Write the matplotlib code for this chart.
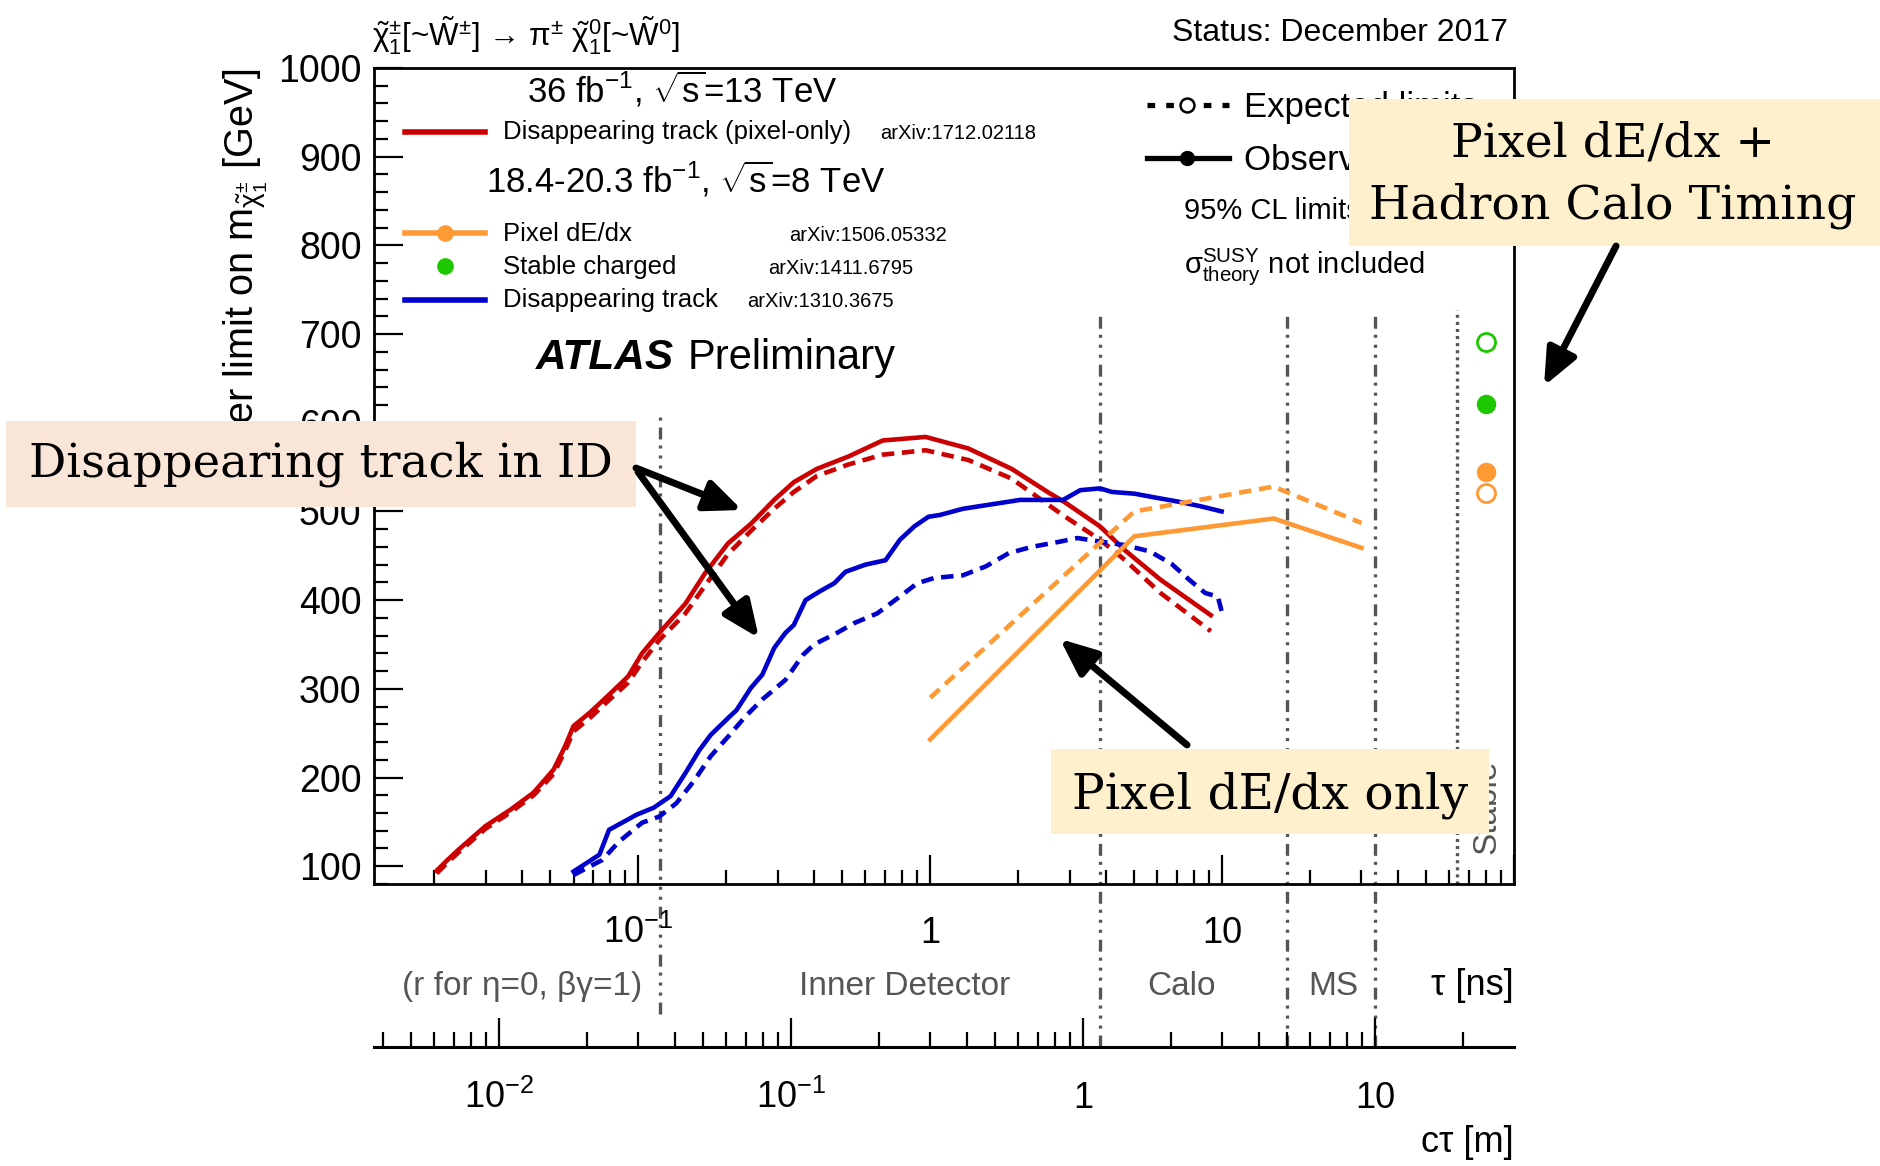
import matplotlib
matplotlib.use("Agg")
import matplotlib.pyplot as plt
import matplotlib.transforms as mtransforms
from matplotlib.patches import Rectangle, FancyArrowPatch
from matplotlib.ticker import LogLocator, NullFormatter, MultipleLocator, FixedLocator

plt.rcParams["font.family"] = ["Liberation Sans", "DejaVu Sans"]
plt.rcParams["mathtext.fontset"] = "custom"
plt.rcParams["mathtext.rm"] = "Liberation Sans"
plt.rcParams["mathtext.it"] = "Liberation Sans"
plt.rcParams["mathtext.bf"] = "Liberation Sans:bold"
plt.rcParams["mathtext.sf"] = "Liberation Sans"
plt.rcParams["lines.scale_dashes"] = False

# ---------------- data ----------------
C_LIGHT = 0.299792458  # m per ns

# 13 TeV disappearing track (pixel-only), tau in ns, mass in GeV
red_tau = [0.0204, 0.0222, 0.0243, 0.0299, 0.0366, 0.0438, 0.0513, 0.0561, 0.0600,
           0.0687, 0.0804, 0.0923, 0.103, 0.118, 0.145, 0.169, 0.203, 0.243, 0.292,
           0.341, 0.409, 0.525, 0.687, 0.964, 1.35, 1.90, 2.55, 2.87, 3.82, 4.65,
           6.15, 9.14]
red_obs = [95, 107, 119, 145, 164, 183, 209, 235, 258, 274, 295, 314, 340, 363, 396,
           430, 464, 486, 513, 533, 548, 562, 580, 584, 571, 548, 521, 511, 483, 456,
           423, 383]
red_exp = [92, 104, 116, 142, 161, 180, 204, 230, 252, 268, 289, 307, 330, 355, 385,
           416, 452, 478, 503, 522, 540, 553, 564, 569, 558, 537, 507, 495, 468, 445,
           408, 365]

# 8 TeV disappearing track
blue_obs_tau = [0.060, 0.0736, 0.0794, 0.0986, 0.113, 0.129, 0.145, 0.162, 0.177,
                0.203, 0.217, 0.243, 0.266, 0.292, 0.319, 0.341, 0.374, 0.419, 0.469,
                0.513, 0.600, 0.703, 0.787, 0.881, 0.986, 1.079, 1.294, 1.622, 2.032,
                2.851, 3.266, 3.819, 4.188, 5.012, 5.821, 7.079, 8.395, 9.954]
blue_obs = [94, 113, 141, 158, 166, 179, 205, 231, 248, 267, 276, 301, 316, 346, 363,
            372, 400, 410, 419, 432, 440, 445, 468, 483, 494, 496, 503, 508, 513, 513,
            524, 526, 522, 520, 516, 511, 506, 500]
blue_exp_tau = [0.060, 0.0752, 0.0861, 0.103, 0.118, 0.135, 0.155, 0.177, 0.203,
                0.233, 0.266, 0.319, 0.366, 0.400, 0.479, 0.548, 0.658, 0.787, 0.902,
                1.033, 1.294, 1.549, 1.858, 2.223, 2.786, 3.192, 3.819, 4.645, 5.649,
                6.699, 7.709, 8.750, 9.661, 10.0]
blue_exp = [90, 107, 128, 149, 156, 171, 196, 224, 246, 269, 288, 310, 338, 350, 363,
            374, 385, 404, 419, 425, 428, 438, 453, 460, 466, 470, 466, 462, 455, 441,
            423, 408, 404, 385]

# 8 TeV pixel dE/dx
orange_tau = [1, 5, 15, 30]
orange_obs = [243, 472, 492, 459]
orange_exp = [290, 500, 528, 487]

# stable chargino limits
stable_tau = [80]
green_stable_obs = [621]
green_stable_exp = [691]
orange_stable_obs = [544]
orange_stable_exp = [521]

# detector region boundaries (tau, ns) and labels
region_tau = [0.119, 3.82, 16.7, 33.5]
stable_boundary_tau = [63.5]
region_names = ["(r for η=0, βγ=1)", "Inner Detector", "Calo", "MS"]
region_label_tau = [0.0399, 0.82, 7.24, 24.1]

tau_ticks = [0.1, 1, 10]
tau_ticklabels = [r"$\mathdefault{10^{-1}}$", "1", "10"]
ctau_ticks = [0.01, 0.1, 1, 10]
ctau_ticklabels = [r"$\mathdefault{10^{-2}}$", r"$\mathdefault{10^{-1}}$", "1", "10"]
mass_ticks = list(range(100, 1001, 100))
tau_lim = (0.01245, 100.0)
mass_lim = (80, 1000)

RED = "#CC0000"
BLUE = "#0000CC"
ORANGE = "#FF9933"
GREEN = "#1EC800"
GRAY = "#555555"

# ---------------- figure ----------------
fig = plt.figure(figsize=(18.8, 11.66), dpi=100)
L, B, W, H = 0.199, 0.2419, 0.6064, 0.6998
ax = fig.add_axes([L, B, W, H])
ax.set_xscale("log")
ax.set_xlim(*tau_lim)
ax.set_ylim(*mass_lim)
for s in ax.spines.values():
    s.set_linewidth(2.0)

ax.yaxis.set_major_locator(FixedLocator(mass_ticks))
ax.yaxis.set_minor_locator(MultipleLocator(20))
ax.xaxis.set_major_locator(LogLocator(base=10))
ax.xaxis.set_minor_locator(LogLocator(base=10, subs=range(2, 10)))
ax.xaxis.set_major_formatter(NullFormatter())
ax.xaxis.set_minor_formatter(NullFormatter())
ax.tick_params(axis="both", which="both", direction="in", top=False, right=False)
ax.tick_params(axis="both", which="major", length=21, width=1.6)
ax.tick_params(axis="both", which="minor", length=10, width=1.6)
ax.tick_params(axis="y", labelsize=27, pad=9)

lw = 3.3
dash = (0, (9, 5.5))
ax.plot(red_tau, red_obs, color=RED, lw=lw, zorder=4)
ax.plot(red_tau, red_exp, color=RED, lw=lw, ls=dash, zorder=4)
ax.plot(blue_obs_tau, blue_obs, color=BLUE, lw=lw, zorder=4)
ax.plot(blue_exp_tau, blue_exp, color=BLUE, lw=lw, ls=dash, zorder=4)
ax.plot(orange_tau, orange_obs, color=ORANGE, lw=lw, zorder=4)
ax.plot(orange_tau, orange_exp, color=ORANGE, lw=lw, ls=dash, zorder=4)

ax.plot(stable_tau, green_stable_exp, "o", ms=13, mfc="none", mec=GREEN, mew=2, zorder=5)
ax.plot(stable_tau, green_stable_obs, "o", ms=13, mfc=GREEN, mec=GREEN, zorder=5)
ax.plot(stable_tau, orange_stable_obs, "o", ms=13, mfc=ORANGE, mec=ORANGE, zorder=5)
ax.plot(stable_tau, orange_stable_exp, "o", ms=13, mfc="none", mec=ORANGE, mew=2, zorder=5)

# region boundaries
trans = mtransforms.blended_transform_factory(ax.transData, ax.transAxes)
vdash = (0, (8.6, 5, 2.2, 5, 2.2, 5, 2.2, 4.3))
for i, t in enumerate(region_tau):
    top, bot = (0.576, -0.159) if i == 0 else (0.704, -0.2)
    ax.plot([t, t], [bot, top], transform=trans, color=GRAY, lw=2.4, ls=vdash,
            clip_on=False, zorder=2)
ax.plot([stable_boundary_tau[0]] * 2, [0, 0.704], transform=trans, color=GRAY,
        lw=2.4, ls=(0, (2.2, 2.9)), zorder=2)
ax.text(0.976, 0.037, "Stable", transform=ax.transAxes, rotation=90, ha="center",
        va="bottom", color=GRAY, fontsize=24)

for t, name in zip(region_label_tau, region_names):
    ax.text(t, -0.1365, name, transform=trans, ha="center", va="baseline",
            color=GRAY, fontsize=24)
ax.text(1.0, -0.1365, "τ [ns]", transform=ax.transAxes, ha="right", va="baseline",
        fontsize=26)
for t, lab in zip(tau_ticks, tau_ticklabels):
    ax.text(t, -0.0727, lab, transform=trans, ha="center", va="baseline", fontsize=26)

# lower c*tau axis
ax2 = fig.add_axes([L, 0.10223, W, 1e-5])
ax2.patch.set_visible(False)
ax2.set_xscale("log")
ax2.set_xlim(tau_lim[0] * C_LIGHT, tau_lim[1] * C_LIGHT)
for s in ["top", "left", "right"]:
    ax2.spines[s].set_visible(False)
ax2.spines["bottom"].set_linewidth(2.2)
ax2.set_yticks([])
ax2.xaxis.set_major_locator(LogLocator(base=10))
ax2.xaxis.set_minor_locator(LogLocator(base=10, subs=range(2, 10)))
ax2.xaxis.set_major_formatter(NullFormatter())
ax2.xaxis.set_minor_formatter(NullFormatter())
ax2.tick_params(axis="x", which="both", direction="in")
ax2.tick_params(axis="x", which="major", length=21, width=1.6)
ax2.tick_params(axis="x", which="minor", length=11, width=1.6)
trans2 = mtransforms.blended_transform_factory(ax2.transData, fig.transFigure)
for t, lab in zip(ctau_ticks, ctau_ticklabels):
    ax2.text(t, 0.0497, lab, transform=trans2, ha="center", va="baseline", fontsize=26)
trans2b = mtransforms.blended_transform_factory(ax2.transAxes, fig.transFigure)
ax2.text(1.0, 0.012, "cτ [m]", transform=trans2b, ha="right", va="baseline", fontsize=26)

# titles
fig.text(0.198, 0.9597,
         r"$\tilde{\chi}^{\pm}_{1}$[~$\tilde{W}^{\pm}$] → π$^{\pm}$ $\tilde{\chi}^{0}_{1}$[~$\tilde{W}^{0}$]",
         ha="left", va="baseline", fontsize=22.5)
fig.text(0.802, 0.9648, "Status: December 2017", ha="right", va="baseline", fontsize=23)
fig.text(0.1350, 0.9417, r"Lower limit on m$_{\tilde{\chi}^{\pm}_{1}}$ [GeV]",
         rotation=90, rotation_mode="anchor", ha="right", va="baseline", fontsize=28.5)

# left legend
ta = ax.transAxes
ax.text(0.270, 0.9574, r"36 fb$^{-1}$, $\sqrt{s}$=13 TeV", transform=ta, ha="center",
        va="baseline", fontsize=25)
ax.plot([0.027, 0.097], [0.922, 0.922], transform=ta, color=RED, lw=4)
ax.text(0.113, 0.913, "Disappearing track (pixel-only)", transform=ta, va="baseline", fontsize=18.5)
ax.text(0.444, 0.913, "arXiv:1712.02118", transform=ta, va="baseline", fontsize=14.5)
ax.text(0.273, 0.8469, r"18.4-20.3 fb$^{-1}$, $\sqrt{s}$=8 TeV", transform=ta, ha="center",
        va="baseline", fontsize=25)
ax.plot([0.027, 0.062, 0.097], [0.798] * 3, transform=ta, color=ORANGE, lw=4,
        marker="o", ms=11, markevery=[1])
ax.text(0.113, 0.788, "Pixel dE/dx", transform=ta, va="baseline", fontsize=18.5)
ax.text(0.364, 0.788, "arXiv:1506.05332", transform=ta, va="baseline", fontsize=14.5)
ax.plot([0.062], [0.757], transform=ta, color=GREEN, marker="o", ms=11, ls="none")
ax.text(0.113, 0.748, "Stable charged", transform=ta, va="baseline", fontsize=18.5)
ax.text(0.346, 0.748, "arXiv:1411.6795", transform=ta, va="baseline", fontsize=14.5)
ax.plot([0.027, 0.097], [0.716, 0.716], transform=ta, color=BLUE, lw=4)
ax.text(0.113, 0.707, "Disappearing track", transform=ta, va="baseline", fontsize=18.5)
ax.text(0.327, 0.707, "arXiv:1310.3675", transform=ta, va="baseline", fontsize=14.5)
ax.text(0.142, 0.631, "ATLAS", transform=ta, va="baseline", fontsize=30.5,
        fontweight="bold", fontstyle="italic")
ax.text(0.275, 0.631, "Preliminary", transform=ta, va="baseline", fontsize=30)

# right legend
ax.plot([0.678, 0.713, 0.750], [0.9545] * 3, transform=ta, color="black", lw=3.8,
        ls=(0, (5.5, 8)), marker="o", ms=10, mfc="white", mec="black", mew=1.8,
        markevery=[1])
ax.text(0.763, 0.9396, "Expected limits", transform=ta, va="baseline", fontsize=25)
ax.plot([0.678, 0.713, 0.750], [0.890] * 3, transform=ta, color="black", lw=3.8,
        marker="o", ms=10, markevery=[1])
ax.text(0.763, 0.875, "Observed limits", transform=ta, va="baseline", fontsize=25)
ax.text(0.710, 0.815, "95% CL limits", transform=ta, va="baseline", fontsize=21)
ax.text(0.710, 0.749, r"σ${}^{\mathrm{SUSY}}_{\mathrm{theory}}$ not included",
        transform=ta, va="baseline", fontsize=21)

# ---------------- slide annotations ----------------
SERIF = ["DejaVu Serif"]
boxes = [
    ((0.0032, 0.5652), 0.3351, 0.0738, "#FAE5D9"),
    ((0.5590, 0.2847), 0.2330, 0.0729, "#FEF0CD"),
    ((0.7176, 0.7890), 0.2824, 0.1261, "#FEF0CD"),
]
for (x0, y0), w, h, c in boxes:
    fig.add_artist(Rectangle((x0, y0), w, h, transform=fig.transFigure,
                             facecolor=c, edgecolor="none", zorder=5))
fig.text(0.1707, 0.602, "Disappearing track in ID", ha="center", va="center",
         family=SERIF, fontsize=33.5, zorder=6)
fig.text(0.6755, 0.318, "Pixel dE/dx only", ha="center", va="center",
         family=SERIF, fontsize=35, zorder=6)
fig.text(0.858, 0.8765, "Pixel dE/dx +", ha="center", va="center",
         family=SERIF, fontsize=34, zorder=6)
fig.text(0.858, 0.8233, "Hadron Calo Timing", ha="center", va="center",
         family=SERIF, fontsize=34, zorder=6)

arrows = [
    ((0.3383, 0.5986), (0.3947, 0.5626)),
    ((0.3394, 0.5952), (0.4037, 0.4528)),
    ((0.6314, 0.3611), (0.5638, 0.4520)),
    ((0.8596, 0.7890), (0.8213, 0.6690)),
]
for a, b in arrows:
    fig.add_artist(FancyArrowPatch(a, b, transform=fig.transFigure,
                                   arrowstyle="-|>,head_length=2.2,head_width=0.95",
                                   mutation_scale=10, lw=5, color="black",
                                   shrinkA=0, shrinkB=0, zorder=7))

fig.savefig("out.png", dpi=100, facecolor="white")
